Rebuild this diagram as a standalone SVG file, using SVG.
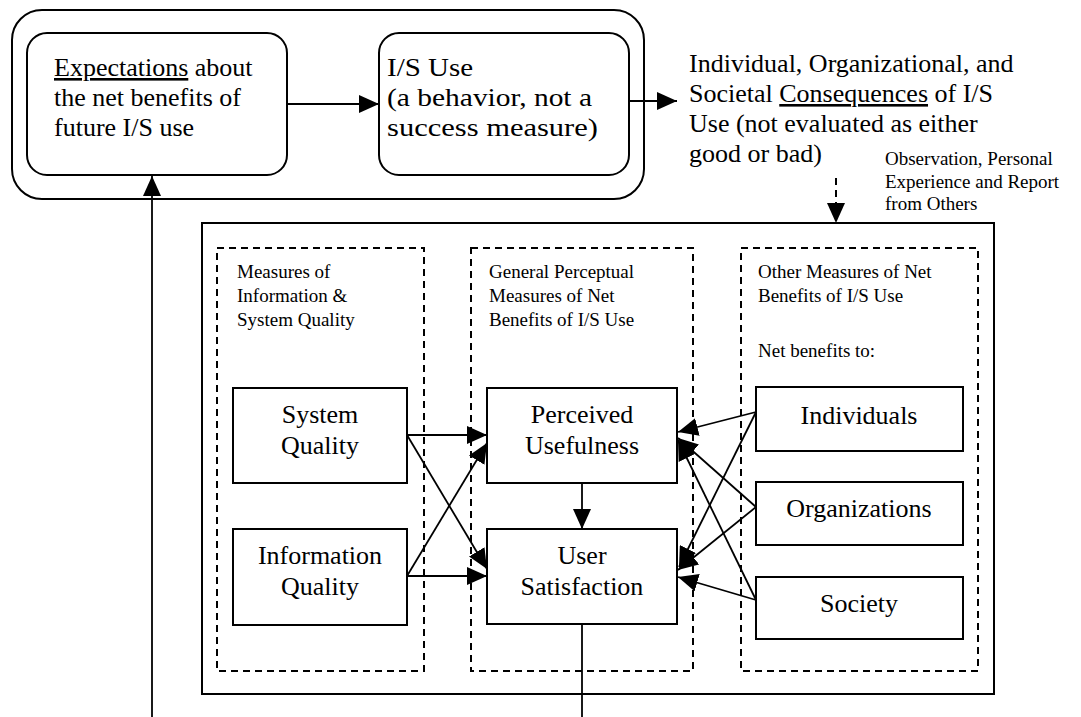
<svg xmlns="http://www.w3.org/2000/svg" width="1081" height="717" viewBox="0 0 1081 717">
<style>
.lg{font-family:"Liberation Serif","Times New Roman",Times,serif;font-size:26px;fill:#000}
.sm{font-family:"Liberation Serif","Times New Roman",Times,serif;font-size:19px;fill:#000}
.mid{text-anchor:middle}
.rbox{fill:#fff;stroke:#000;stroke-width:2}
.box{fill:#fff;stroke:#000;stroke-width:2}
.dash{fill:none;stroke:#000;stroke-width:2;stroke-dasharray:7 5}
.ln{fill:none;stroke:#000;stroke-width:1.8}
.arr{fill:none;stroke:#000;stroke-width:1.8;marker-end:url(#ah)}
.darr{fill:none;stroke:#000;stroke-width:2;stroke-dasharray:7 5;marker-end:url(#ah)}
</style>
<defs>
<marker id="ah" viewBox="0 0 20 18" refX="20" refY="9" markerWidth="20" markerHeight="18" markerUnits="userSpaceOnUse" orient="auto">
<path d="M0,0 L20,9 L0,18 z" fill="#000"/>
</marker>
</defs>
<rect width="1081" height="717" fill="#fff"/>

<g id="outer-use-box">
<rect class="rbox" x="12" y="10" width="632" height="189" rx="30" ry="30"/>
</g>
<g id="expectations">
<rect class="rbox" x="27" y="33" width="260" height="142" rx="20" ry="20"/>
<text class="lg" x="54" y="76"><tspan text-decoration="underline">Expectations</tspan> about</text>
<text class="lg" x="54" y="106">the net benefits of</text>
<text class="lg" x="54" y="136">future I/S use</text>
</g>
<g id="is-use">
<rect class="rbox" x="379" y="33" width="250" height="142" rx="20" ry="20"/>
<text class="lg" x="387" y="76" font-size="27.5" textLength="86" lengthAdjust="spacingAndGlyphs">I/S Use</text>
<text class="lg" x="387" y="106" font-size="27.5" textLength="205" lengthAdjust="spacingAndGlyphs">(a behavior, not a</text>
<text class="lg" x="387" y="136" font-size="27.5" textLength="211" lengthAdjust="spacingAndGlyphs">success measure)</text>
</g>
<g id="consequences">
<text class="lg" x="689" y="72" font-size="26.4">Individual, Organizational, and</text>
<text class="lg" x="689" y="102" font-size="26.4">Societal <tspan text-decoration="underline">Consequences</tspan> of I/S</text>
<text class="lg" x="689" y="132" font-size="26.4">Use (not evaluated as either</text>
<text class="lg" x="689" y="162" font-size="26.4">good or bad)</text>
</g>
<g id="observation-label">
<text class="sm" x="885" y="165">Observation, Personal</text>
<text class="sm" x="885" y="188">Experience and Report</text>
<text class="sm" x="885" y="210">from Others</text>
</g>

<g id="measures-box">
<rect class="box" x="202" y="223" width="792" height="471"/>
</g>
<g id="col-quality">
<rect class="dash" x="217" y="248" width="207" height="423"/>
<text class="sm" x="237" y="278">Measures of</text>
<text class="sm" x="237" y="302">Information &amp;</text>
<text class="sm" x="237" y="326">System Quality</text>
</g>
<g id="col-perceptual">
<rect class="dash" x="471" y="248" width="222" height="423"/>
<text class="sm" x="489" y="278">General Perceptual</text>
<text class="sm" x="489" y="302">Measures of Net</text>
<text class="sm" x="489" y="326">Benefits of I/S Use</text>
</g>
<g id="col-other">
<rect class="dash" x="741" y="248" width="237" height="423"/>
<text class="sm" x="758" y="278">Other Measures of Net</text>
<text class="sm" x="758" y="302">Benefits of I/S Use</text>
<text class="sm" x="758" y="357">Net benefits to:</text>
</g>

<g id="system-quality">
<rect class="box" x="233" y="388" width="174" height="95"/>
<text class="lg mid" x="320" y="423">System</text>
<text class="lg mid" x="320" y="454">Quality</text>
</g>
<g id="information-quality">
<rect class="box" x="233" y="529" width="174" height="96"/>
<text class="lg mid" x="320" y="564">Information</text>
<text class="lg mid" x="320" y="595">Quality</text>
</g>
<g id="perceived-usefulness">
<rect class="box" x="487" y="388" width="190" height="95"/>
<text class="lg mid" x="582" y="423">Perceived</text>
<text class="lg mid" x="582" y="454">Usefulness</text>
</g>
<g id="user-satisfaction">
<rect class="box" x="487" y="529" width="190" height="95"/>
<text class="lg mid" x="582" y="564">User</text>
<text class="lg mid" x="582" y="595">Satisfaction</text>
</g>
<g id="individuals">
<rect class="box" x="756" y="387" width="207" height="64"/>
<text class="lg mid" x="859" y="424">Individuals</text>
</g>
<g id="organizations">
<rect class="box" x="756" y="482" width="207" height="63"/>
<text class="lg mid" x="859" y="517">Organizations</text>
</g>
<g id="society">
<rect class="box" x="756" y="577" width="207" height="62"/>
<text class="lg mid" x="859" y="612">Society</text>
</g>

<g id="connectors">
<line class="arr" x1="287" y1="104" x2="379" y2="104"/>
<line class="arr" x1="629" y1="101" x2="677" y2="101"/>
<line class="darr" x1="836" y1="178" x2="836" y2="223"/>
<line class="arr" x1="152" y1="717" x2="152" y2="176"/>
<line class="ln" x1="582" y1="624" x2="582" y2="717"/>
<line class="arr" x1="582" y1="483" x2="582" y2="529"/>
<line class="arr" x1="407" y1="435" x2="487" y2="435"/>
<line class="arr" x1="407" y1="576" x2="487" y2="576"/>
<line class="arr" x1="407" y1="435" x2="487" y2="569"/>
<line class="arr" x1="407" y1="576" x2="487" y2="443"/>
<line class="arr" x1="756" y1="412" x2="678" y2="432"/>
<line class="arr" x1="756" y1="507" x2="678" y2="438"/>
<line class="arr" x1="756" y1="600" x2="678" y2="440"/>
<line class="arr" x1="756" y1="412" x2="679" y2="567"/>
<line class="arr" x1="756" y1="507" x2="678" y2="570"/>
<line class="arr" x1="756" y1="600" x2="678" y2="577"/>
</g>
</svg>
